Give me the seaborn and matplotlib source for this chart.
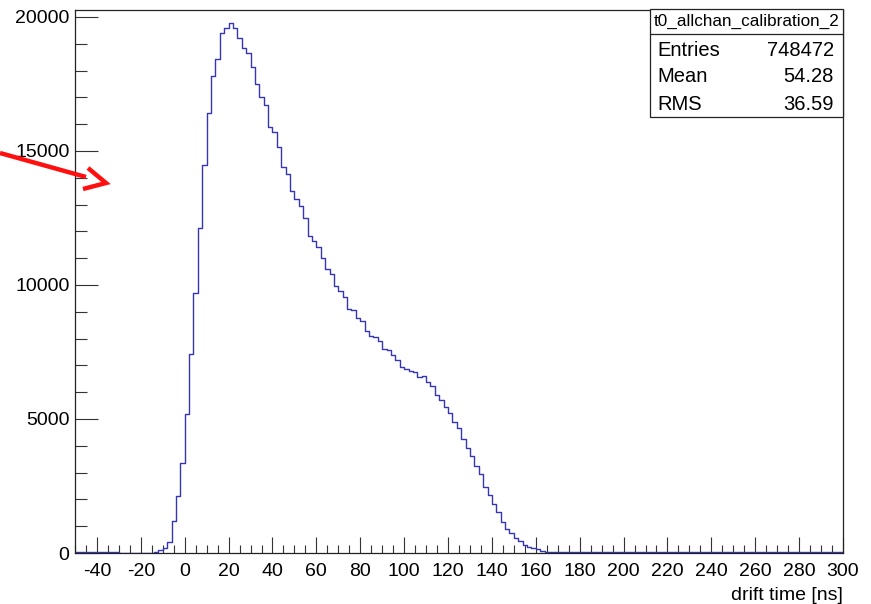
import numpy as np
import pandas as pd
import matplotlib
matplotlib.use("Agg")
import matplotlib.pyplot as plt
import seaborn as sns
from matplotlib.lines import Line2D
from matplotlib.patches import Rectangle
from matplotlib.ticker import MultipleLocator

# drift time histogram, 2 ns bins from -50 to 300 ns
BIN_LOW = -50
BIN_HIGH = 300
BIN_WIDTH = 2

# counts, one per bin
tail_left = [30, 40, 25, 35, 30, 20, 35, 25, 30, 20,
             10, 0, 10, 0, 10, 0, 10, 0, 20]                       # -50 .. -12
rise = [120, 170, 420, 1180, 2130, 3340, 5180, 7430, 9690, 12140,
        14470, 16420, 17780, 18450, 19400, 19580]                 # -12 .. 20
peak_fall = [19770, 19570, 19210, 18860, 18650, 18150, 17490, 17000, 16710,
             15880, 15690, 15130, 14390, 14140, 13520, 13210, 12935, 12490]  # 20 .. 56
plateau = [11830, 11630, 11430, 11000, 10615, 10420, 9970, 9780, 9560, 9100,
           9080, 8780, 8650, 8300, 8110, 8070, 7910, 7610, 7570, 7400,
           7210, 6940, 6880, 6780, 6760]                          # 56 .. 106
edge = [6570, 6600, 6380, 6220, 5885, 5700, 5450, 5240, 4905, 4655,
        4245, 3935, 3625, 3250, 2940, 2470, 2160, 1815, 1530, 1165,
        885, 735, 570, 445, 300, 235, 175, 150, 90, 50]           # 106 .. 166
tail_right = [40, 35, 30, 30, 25, 30, 20, 25, 30, 20,
              25, 20, 30, 25, 20, 25, 20, 30, 20, 25,
              20, 25, 30, 20, 25, 20, 20, 25, 30, 20,
              25, 20, 20, 30, 25, 20, 25, 20, 30, 20,
              25, 20, 20, 25, 20, 30, 20, 25, 20, 20,
              25, 20, 30, 20, 25, 20, 20, 25, 20, 30,
              20, 25, 20, 20, 25, 20, 30]                         # 166 .. 300

counts = tail_left + rise + peak_fall + plateau + edge + tail_right

hist_name = "t0_allchan_calibration_2"
stat_names = ["Entries", "Mean", "RMS"]
stat_values = ["748472", "54.28", "36.59"]

edges = np.arange(BIN_LOW, BIN_HIGH + BIN_WIDTH, BIN_WIDTH)
df = pd.DataFrame({"t": edges[:-1] + BIN_WIDTH / 2, "n": counts})

sns.set_theme(style="white")
plt.rcParams["font.family"] = ["Liberation Sans", "DejaVu Sans"]
plt.rcParams["axes.unicode_minus"] = False

W, H = 871, 604
fig = plt.figure(figsize=(W / 100, H / 100), dpi=100)
fig.patch.set_facecolor("white")
ax = fig.add_axes([75 / W, 51 / H, 768 / W, 543 / H])

sns.histplot(data=df, x="t", weights="n", bins=list(edges), element="step", fill=False,
             color="#3636b4", linewidth=1.0, ax=ax)

ax.set_xlim(BIN_LOW, BIN_HIGH)
ax.set_ylim(0, 20260)
ax.set_ylabel("")
ax.set_xlabel("drift time [ns]", fontsize=14, color="black", loc="right", labelpad=5)

ax.xaxis.set_major_locator(MultipleLocator(20))
ax.xaxis.set_minor_locator(MultipleLocator(5))
ax.yaxis.set_major_locator(MultipleLocator(5000))
ax.yaxis.set_minor_locator(MultipleLocator(1000))
ax.tick_params(axis="x", which="major", direction="in", length=11.5, width=0.8,
               color="#333333", labelsize=14, labelcolor="black", pad=7)
ax.tick_params(axis="x", which="minor", direction="in", length=5.8, width=0.8, color="#333333")
ax.tick_params(axis="y", which="major", direction="in", length=16.5, width=0.8,
               color="#333333", labelsize=14, labelcolor="black", pad=4)
ax.tick_params(axis="y", which="minor", direction="in", length=8.6, width=0.8, color="#333333")
ax.tick_params(bottom=True, left=True, top=False, right=False, which="both")
for sp in ax.spines.values():
    sp.set_color("#222222")
    sp.set_linewidth(0.9)

# stats box (figure pixel coords)
def fx(px):
    return px / W

def fy(py):
    return 1 - py / H

box_l, box_r, box_t, box_b, box_sep = 650, 843, 9, 117, 34
fig.add_artist(Rectangle((fx(box_l), fy(box_b)), fx(box_r) - fx(box_l), fy(box_t) - fy(box_b),
                         transform=fig.transFigure, facecolor="white", edgecolor="#222222",
                         linewidth=0.9, zorder=5))
fig.add_artist(Line2D([fx(box_l), fx(box_r)], [fy(box_sep), fy(box_sep)],
                      transform=fig.transFigure, color="#222222", linewidth=0.9, zorder=6))
fig.text(fx((box_l + box_r) / 2), fy(21.5), hist_name, ha="center", va="center",
         fontsize=12.3, color="black", zorder=7)
for i, (name, val) in enumerate(zip(stat_names, stat_values)):
    yy = fy(50 + i * 27)
    fig.text(fx(657), yy, name, ha="left", va="center", fontsize=14.5, color="black", zorder=7)
    fig.text(fx(834), yy, val, ha="right", va="center", fontsize=14.5, color="black", zorder=7)

# red arrow annotation on the left
fig.add_artist(Line2D([fx(0), fx(86)], [fy(153), fy(177)], transform=fig.transFigure,
                      color="#ff1010", linewidth=3.2, solid_capstyle="butt"))
fig.add_artist(Line2D([fx(88), fx(106), fx(83)], [fy(168), fy(183), fy(189)],
                      transform=fig.transFigure, color="#ff1010", linewidth=3.2,
                      solid_joinstyle="miter", solid_capstyle="butt"))

fig.savefig("out.png", dpi=100, facecolor="white")
